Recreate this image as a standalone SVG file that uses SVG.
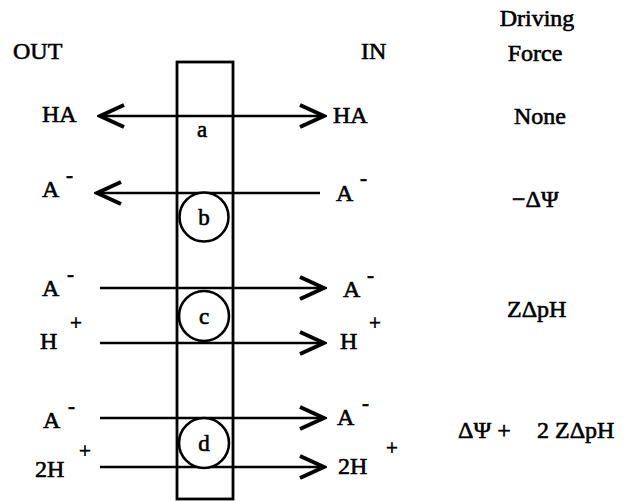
<svg xmlns="http://www.w3.org/2000/svg" width="625" height="501" viewBox="0 0 625 501">
<style>
text{font-family:"Liberation Serif","Times New Roman",serif;fill:#000;stroke:#000;stroke-width:0.6}
.t{font-size:24px}
.s{font-size:23px}
.sup{font-size:21px}
.ln{stroke:#000;stroke-width:2.4;fill:none}
.mem{stroke:#000;stroke-width:2.8;fill:#fff}
.circ{stroke:#000;stroke-width:2.6;fill:#fff}
</style>
<defs>
<marker id="head" markerUnits="userSpaceOnUse" viewBox="0 0 30 30" markerWidth="30" markerHeight="30" refX="27" refY="13" orient="auto-start-reverse">
<path d="M3,2 L27,13 L3,24" fill="none" stroke="#000" stroke-width="4" stroke-linejoin="miter"/>
</marker>
</defs>
<rect width="625" height="501" fill="#fff" stroke="none"/>
<g id="headers">
<text class="t" x="13" y="59">OUT</text>
<text class="t" x="361" y="59">IN</text>
<text class="t" x="537" y="26" text-anchor="middle">Driving</text>
<text class="t" x="535" y="61" text-anchor="middle">Force</text>
</g>
<g id="membrane">
<rect class="mem" x="177" y="62" width="56" height="437"/>
</g>
<g id="connectors">
<line class="ln" x1="100" y1="116" x2="324" y2="116" marker-start="url(#head)" marker-end="url(#head)"/>
<line class="ln" x1="97" y1="193" x2="320" y2="193" marker-start="url(#head)"/>
<line class="ln" x1="100" y1="288" x2="324" y2="288" marker-end="url(#head)"/>
<line class="ln" x1="100" y1="343" x2="324" y2="343" marker-end="url(#head)"/>
<line class="ln" x1="100" y1="418" x2="324" y2="418" marker-end="url(#head)"/>
<line class="ln" x1="100" y1="467" x2="324" y2="467" marker-end="url(#head)"/>
</g>
<g id="row-a">
<text class="t" x="42" y="122">HA</text>
<text class="t" x="333" y="123">HA</text>
<text class="s" x="202" y="137" text-anchor="middle">a</text>
<text class="t" x="540" y="124" text-anchor="middle">None</text>
</g>
<g id="row-b">
<circle class="circ" cx="204" cy="217" r="24.5"/>
<text class="s" x="204" y="225" text-anchor="middle">b</text>
<text class="t" x="42" y="197">A</text>
<text class="sup" x="66" y="182">-</text>
<text class="t" x="336" y="201">A</text>
<text class="sup" x="360" y="185">-</text>
<text class="t" x="512" y="207">−ΔΨ</text>
</g>
<g id="row-c">
<circle class="circ" cx="204" cy="316" r="25"/>
<text class="s" x="204" y="324" text-anchor="middle">c</text>
<text class="t" x="42" y="296">A</text>
<text class="sup" x="67" y="281">-</text>
<text class="t" x="40" y="349">H</text>
<text class="sup" x="70" y="330">+</text>
<text class="t" x="343" y="297">A</text>
<text class="sup" x="367" y="282">-</text>
<text class="t" x="340" y="349">H</text>
<text class="sup" x="369" y="330">+</text>
<text class="t" x="507" y="317">ZΔpH</text>
</g>
<g id="row-d">
<circle class="circ" cx="204" cy="443" r="25"/>
<text class="s" x="204" y="451" text-anchor="middle">d</text>
<text class="t" x="43" y="428">A</text>
<text class="sup" x="68" y="413">-</text>
<text class="t" x="35" y="477">2H</text>
<text class="sup" x="79" y="458">+</text>
<text class="t" x="337" y="425">A</text>
<text class="sup" x="362" y="410">-</text>
<text class="t" x="338" y="474">2H</text>
<text class="sup" x="386" y="455">+</text>
<text class="t" x="458" y="438">ΔΨ +</text>
<text class="t" x="537" y="438">2 ZΔpH</text>
</g>
</svg>
